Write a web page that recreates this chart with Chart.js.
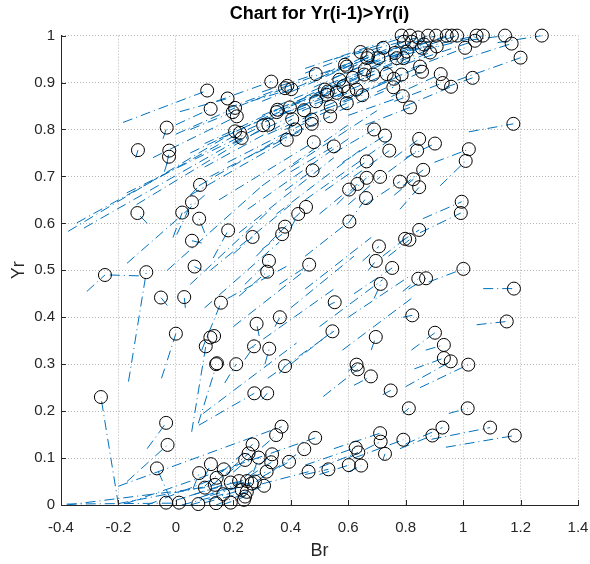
<!DOCTYPE html>
<html><head><meta charset="utf-8">
<script src="https://cdn.jsdelivr.net/npm/chart.js@4"></script>
<style>html,body{margin:0;padding:0;background:#fff}#wrap{width:590px;height:564px}</style>
</head><body><div id="wrap"><canvas id="c" width="590" height="564"></canvas></div>
<script>
const chartTitle = 'Chart for Yr(i-1)>Yr(i)';
const xLabel = 'Br';
const yLabel = 'Yr';

// circle markers (Br, Yr)
const circleBr = [0.786,0.815,0.843,0.878,0.906,0.943,0.961,0.979,1.047,1.069,1.146,1.274,0.794,0.821,0.864,0.908,0.885,1.007,1.041,1.169,1.200,0.804,0.722,0.643,0.670,0.666,0.705,0.763,0.769,0.792,0.856,0.850,0.857,0.786,
0.589,0.595,0.569,0.616,0.658,0.655,0.687,0.734,0.759,0.487,0.332,0.380,0.402,0.388,0.519,0.529,0.525,0.560,0.583,0.600,0.629,0.649,0.757,0.790,0.815,0.922,0.929,0.958,1.033,
0.109,0.180,0.121,0.198,0.206,0.212,0.206,0.223,0.229,0.304,0.322,0.354,0.351,0.397,0.405,0.416,0.386,0.446,0.473,0.473,0.480,0.550,0.476,0.488,0.539,0.537,0.595,
0.690,0.728,0.743,0.664,0.664,0.711,0.632,0.603,0.662,0.780,1.175,0.847,0.902,0.840,1.020,1.009,0.861,0.827,0.847,0.995,
-0.032,-0.132,-0.023,-0.024,0.084,0.056,-0.134,0.022,0.081,0.182,0.056,0.065,-0.247,-0.103,-0.052,0.029,0.157,0.000,0.120,0.133,0.104,0.140,0.143,0.210,
0.453,0.426,0.380,0.370,0.267,0.604,0.324,0.318,0.464,0.707,0.696,0.753,0.798,0.713,0.553,0.362,0.281,0.545,0.696,0.272,0.325,0.380,0.629,
0.992,0.847,0.813,1.001,0.871,0.844,1.177,0.823,1.152,0.902,0.933,0.933,0.957,1.018,
-0.261,0.273,0.318,-0.034,-0.029,-0.066,0.368,0.349,0.267,0.253,0.241,0.288,0.335,0.332,0.394,0.447,0.485,0.462,0.316,0.122,0.081,0.167,0.142,0.136,0.101,0.191,0.220,0.248,0.275,0.307,0.229,0.247,0.241,0.237,0.165,0.191,0.140,0.078,0.011,-0.034,0.264,
0.633,0.679,0.748,0.811,1.016,0.531,0.602,0.645,0.626,0.635,0.711,0.713,0.728,0.792,0.893,0.928,1.094,1.180];
const circleYr = [1.0,1.0,0.996,1.0,1.0,1.0,1.0,1.0,1.0,1.0,1.0,1.0,0.987,0.987,0.981,0.977,0.964,0.974,0.989,0.983,0.953,0.966,0.974,0.965,0.958,0.952,0.952,0.963,0.952,0.952,0.974,0.934,0.923,0.917,
0.938,0.934,0.906,0.910,0.928,0.917,0.917,0.918,0.908,0.918,0.902,0.888,0.886,0.893,0.885,0.881,0.874,0.878,0.892,0.881,0.885,0.873,0.890,0.871,0.847,0.918,0.899,0.891,0.910,
0.883,0.866,0.844,0.837,0.846,0.828,0.796,0.793,0.782,0.809,0.810,0.842,0.837,0.847,0.822,0.800,0.778,0.841,0.821,0.812,0.773,0.764,0.713,0.860,0.849,0.828,0.856,
0.800,0.787,0.755,0.732,0.697,0.699,0.684,0.672,0.654,0.689,0.812,0.780,0.770,0.755,0.758,0.733,0.714,0.694,0.677,0.646,
0.804,0.756,0.755,0.742,0.682,0.645,0.622,0.623,0.610,0.585,0.563,0.508,0.490,0.496,0.442,0.443,0.431,0.365,0.357,0.360,0.338,0.300,0.302,0.300,
0.635,0.620,0.593,0.577,0.571,0.604,0.520,0.497,0.512,0.551,0.520,0.505,0.567,0.471,0.432,0.400,0.386,0.370,0.358,0.338,0.333,0.296,0.299,
0.622,0.586,0.565,0.503,0.483,0.482,0.461,0.404,0.391,0.367,0.341,0.313,0.306,0.299,
0.230,0.238,0.238,0.175,0.128,0.078,0.167,0.149,0.129,0.110,0.096,0.101,0.108,0.091,0.092,0.119,0.143,0.071,0.071,0.087,0.068,0.076,0.058,0.043,0.037,0.048,0.051,0.051,0.050,0.041,0.032,0.028,0.018,0.011,0.023,0.005,0.004,0.002,0.005,0.005,0.046,
0.289,0.274,0.244,0.206,0.206,0.076,0.085,0.084,0.122,0.112,0.153,0.135,0.109,0.139,0.148,0.165,0.165,0.148];

// dash-dot connecting segments: start (from) and end (to)
const segFromBr = [0.45,0.55,0.62,0.60,0.70,0.66,0.78,0.75,0.86,0.80,1.02,1.12,0.58,0.62,0.68,0.72,0.66,0.82,0.80,1.00,0.98,0.56,0.50,0.45,0.52,0.40,0.48,0.55,0.50,0.60,0.70,0.62,0.70,0.52,
0.38,0.30,0.35,0.42,0.45,0.36,0.50,0.55,0.58,0.30,0.14,0.22,0.26,0.18,0.30,0.34,0.25,0.36,0.40,0.42,0.44,0.46,0.57,0.60,0.66,0.75,0.76,0.80,0.94,
-0.184,0.014,0.00,0.05,0.00,-0.08,-0.375,-0.345,-0.32,-0.171,-0.137,0.10,0.05,0.15,0.10,0.08,0.05,0.20,0.18,0.12,0.15,0.40,0.38,0.30,0.32,0.28,0.38,
0.55,0.58,0.62,0.52,0.60,0.60,0.56,0.50,0.60,0.66,1.02,0.76,0.80,0.74,0.90,0.92,0.79,0.76,0.78,0.86,
-0.045,-0.14,-0.032,-0.04,0.05,0.003,-0.10,-0.01,0.10,0.13,0.09,0.09,-0.31,-0.23,-0.165,-0.03,0.033,0.09,-0.05,0.055,0.078,0.17,
0.36,0.40,0.28,0.30,0.20,0.45,0.24,0.22,0.36,0.65,0.67,0.62,0.72,0.69,0.53,0.345,0.29,0.40,0.68,0.24,0.31,0.36,0.60,
0.85,0.78,0.74,0.88,0.81,0.79,1.07,0.79,1.047,0.82,0.87,0.83,0.80,0.85,
-0.20,0.08,0.30,-0.10,-0.17,-0.02,-0.20,0.20,0.16,0.14,0.12,0.27,0.24,0.20,0.30,0.28,-0.17,0.30,0.20,0.10,0.06,0.10,-0.10,-0.20,-0.38,0.00,0.05,0.08,0.10,0.14,0.05,0.10,0.16,0.02,0.12,
0.513,0.62,0.72,0.79,0.95,0.45,0.50,0.60,0.45,0.50,0.55,0.60,0.72,0.62,0.78,0.80,0.89,0.94,
-0.38,0.10,0.18,0.20,0.25,0.32,0.40,0.45,0.50,0.58,0.60,-0.03,0.05,0.12,0.22,0.25,0.30,0.35,0.40,0.45,0.095,-0.17];
const segFromYr = [0.93,0.95,0.96,0.93,0.96,0.94,0.97,0.955,0.975,0.96,0.99,0.985,0.93,0.94,0.94,0.93,0.91,0.93,0.94,0.95,0.905,0.90,0.91,0.92,0.92,0.88,0.89,0.91,0.88,0.90,0.94,0.87,0.88,0.85,
0.89,0.86,0.85,0.86,0.87,0.84,0.87,0.87,0.86,0.88,0.86,0.85,0.86,0.845,0.83,0.84,0.80,0.83,0.85,0.84,0.84,0.83,0.84,0.83,0.81,0.87,0.86,0.85,0.89,
0.815,0.838,0.81,0.80,0.79,0.74,0.583,0.601,0.59,0.665,0.64,0.77,0.75,0.78,0.72,0.68,0.66,0.77,0.73,0.70,0.65,0.71,0.67,0.82,0.79,0.75,0.80,
0.75,0.73,0.70,0.67,0.66,0.64,0.64,0.62,0.60,0.64,0.795,0.74,0.74,0.71,0.73,0.68,0.68,0.66,0.63,0.61,
0.78,0.74,0.725,0.71,0.66,0.576,0.60,0.57,0.58,0.526,0.558,0.50,0.455,0.49,0.263,0.425,0.42,0.33,0.27,0.156,0.174,0.26,
0.58,0.59,0.53,0.545,0.535,0.53,0.47,0.445,0.47,0.52,0.50,0.45,0.53,0.44,0.425,0.38,0.36,0.30,0.33,0.31,0.30,0.28,0.285,
0.58,0.56,0.53,0.475,0.46,0.455,0.461,0.40,0.384,0.33,0.33,0.29,0.252,0.25,
0.0,0.17,0.225,0.12,0.05,0.014,0.04,0.07,0.07,0.05,0.04,0.07,0.06,0.04,0.06,0.05,0.004,0.045,0.045,0.06,0.035,0.04,0.0,0.003,0.0,0.01,0.02,0.015,0.02,0.0,0.0,0.005,0.0,0.0,0.02,
0.231,0.255,0.235,0.195,0.195,0.065,0.065,0.07,0.085,0.08,0.12,0.10,0.095,0.10,0.12,0.13,0.14,0.123,
0.002,0.42,0.44,0.38,0.33,0.27,0.42,0.46,0.38,0.33,0.40,0.50,0.47,0.50,0.58,0.63,0.68,0.62,0.72,0.65,0.195,0.515];
const segToBr = [0.786,0.815,0.843,0.878,0.906,0.943,0.961,0.979,1.047,1.069,1.146,1.274,0.794,0.821,0.864,0.908,0.885,1.007,1.041,1.169,1.200,0.804,0.722,0.643,0.670,0.666,0.705,0.763,0.769,0.792,0.856,0.850,0.857,0.786,
0.589,0.595,0.569,0.616,0.658,0.655,0.687,0.734,0.759,0.487,0.332,0.380,0.402,0.388,0.519,0.529,0.525,0.560,0.583,0.600,0.629,0.649,0.757,0.790,0.815,0.922,0.929,0.958,1.033,
0.109,0.180,0.121,0.198,0.206,0.212,0.206,0.223,0.229,0.304,0.322,0.354,0.351,0.397,0.405,0.416,0.386,0.446,0.473,0.473,0.480,0.550,0.476,0.488,0.539,0.537,0.595,
0.690,0.728,0.743,0.664,0.664,0.711,0.632,0.603,0.662,0.780,1.175,0.847,0.902,0.840,1.020,1.009,0.861,0.827,0.847,0.995,
-0.032,-0.132,-0.023,-0.024,0.084,0.056,-0.134,0.022,0.081,0.182,0.056,0.065,-0.247,-0.12,-0.103,-0.052,0.029,0.157,0.000,0.104,0.136,0.210,
0.453,0.426,0.380,0.370,0.267,0.604,0.324,0.318,0.464,0.707,0.696,0.753,0.798,0.713,0.553,0.362,0.281,0.545,0.696,0.272,0.325,0.380,0.629,
0.992,0.847,0.813,1.001,0.871,0.844,1.177,0.823,1.152,0.902,0.933,0.933,0.957,1.018,
-0.261,0.273,0.318,-0.034,-0.029,-0.066,0.368,0.349,0.267,0.253,0.241,0.288,0.335,0.332,0.394,0.447,0.485,0.462,0.316,0.122,0.081,0.167,0.142,0.136,0.101,0.191,0.220,0.248,0.275,0.307,0.229,0.247,0.241,0.165,0.264,
0.633,0.679,0.748,0.811,1.016,0.531,0.602,0.645,0.626,0.635,0.711,0.713,0.728,0.792,0.893,0.928,1.094,1.180,
0.0,0.36,0.39,0.45,0.55,0.55,0.62,0.68,0.72,0.82,0.82,0.30,0.33,0.40,0.55,0.60,0.60,0.65,0.70,0.75,0.42,0.10];
const segToYr = [1.0,1.0,0.996,1.0,1.0,1.0,1.0,1.0,1.0,1.0,1.0,1.0,0.987,0.987,0.981,0.977,0.964,0.974,0.989,0.983,0.953,0.966,0.974,0.965,0.958,0.952,0.952,0.963,0.952,0.952,0.974,0.934,0.923,0.917,
0.938,0.934,0.906,0.910,0.928,0.917,0.917,0.918,0.908,0.918,0.902,0.888,0.886,0.893,0.885,0.881,0.874,0.878,0.892,0.881,0.885,0.873,0.890,0.871,0.847,0.918,0.899,0.891,0.910,
0.883,0.866,0.844,0.837,0.846,0.828,0.796,0.793,0.782,0.809,0.810,0.842,0.837,0.847,0.822,0.800,0.778,0.841,0.821,0.812,0.773,0.764,0.713,0.860,0.849,0.828,0.856,
0.800,0.787,0.755,0.732,0.697,0.699,0.684,0.672,0.654,0.689,0.812,0.780,0.770,0.755,0.758,0.733,0.714,0.694,0.677,0.646,
0.804,0.756,0.755,0.742,0.682,0.645,0.622,0.623,0.610,0.585,0.563,0.508,0.490,0.488,0.496,0.442,0.443,0.431,0.365,0.338,0.288,0.300,
0.635,0.620,0.593,0.577,0.571,0.604,0.520,0.497,0.512,0.551,0.520,0.505,0.567,0.471,0.432,0.400,0.386,0.370,0.358,0.338,0.333,0.296,0.299,
0.622,0.586,0.565,0.503,0.483,0.482,0.461,0.404,0.391,0.367,0.341,0.313,0.306,0.299,
0.230,0.238,0.238,0.175,0.128,0.078,0.167,0.149,0.129,0.110,0.096,0.101,0.108,0.091,0.092,0.119,0.143,0.071,0.071,0.087,0.068,0.076,0.058,0.043,0.037,0.048,0.051,0.051,0.050,0.041,0.032,0.028,0.018,0.023,0.046,
0.289,0.274,0.244,0.206,0.206,0.076,0.085,0.084,0.122,0.112,0.153,0.135,0.109,0.139,0.148,0.165,0.165,0.148,
0.004,0.56,0.51,0.50,0.46,0.37,0.53,0.57,0.48,0.44,0.49,0.68,0.63,0.64,0.74,0.78,0.81,0.76,0.84,0.78,0.345,0.66];

const xTicksStep = 0.2, yTicksStep = 0.1;
const FONT = '"Liberation Sans", Arial, Helvetica, sans-serif';
const INK = '#262626';

const circlePoints = circleBr.map((b, i) => ({x: b, y: circleYr[i]}));
const segPoints = [];
const nSeg = Math.min(segFromBr.length, segFromYr.length, segToBr.length, segToYr.length);
for (let i = 0; i < nSeg; i++) {
  segPoints.push({x: segFromBr[i], y: segFromYr[i]});
  segPoints.push({x: segToBr[i], y: segToYr[i]});
  segPoints.push({x: segToBr[i], y: null});
}

const innerTicks = {
  id: 'innerTicks',
  afterDraw(chart) {
    const {ctx, chartArea: a, scales: {x, y}} = chart;
    ctx.save();
    ctx.strokeStyle = INK; ctx.lineWidth = 1;
    ctx.beginPath();
    x.ticks.forEach(t => { const p = Math.round(x.getPixelForValue(t.value)) + 0.5; ctx.moveTo(p, a.bottom); ctx.lineTo(p, a.bottom - 5); });
    y.ticks.forEach(t => { const p = Math.round(y.getPixelForValue(t.value)) + 0.5; ctx.moveTo(a.left, p); ctx.lineTo(a.left + 5, p); });
    ctx.stroke();
    ctx.restore();
  }
};

const fmt = v => String(Number(Number(v).toFixed(1)));

new Chart(document.getElementById('c'), {
  type: 'scatter',
  data: {
    datasets: [
      {
        label: 'points', data: circlePoints, order: 0, clip: false,
        pointStyle: 'circle', pointRadius: 6.5, pointHoverRadius: 6.5,
        borderColor: '#000000', backgroundColor: 'rgba(0,0,0,0)', borderWidth: 1, showLine: false
      },
      {
        label: 'lines', data: segPoints, order: 1, showLine: true, spanGaps: false,
        borderColor: '#0072BD', borderWidth: 1, borderDash: [10, 4, 1, 4],
        pointRadius: 0, pointHoverRadius: 0, fill: false, tension: 0
      }
    ]
  },
  options: {
    responsive: false, animation: false, devicePixelRatio: 1,
    events: [],
    layout: {padding: {top: 3, right: 12, left: 0, bottom: 0}},
    plugins: {
      legend: {display: false}, tooltip: {enabled: false},
      title: {display: true, text: chartTitle, fullSize: false, color: '#000',
        font: {family: FONT, size: 18, weight: 'bold', lineHeight: 1.2}, padding: {top: 0, bottom: 11}}
    },
    scales: {
      x: {
        type: 'linear', min: -0.4, max: 1.4,
        ticks: {stepSize: xTicksStep, callback: fmt, color: INK, font: {family: FONT, size: 15}, padding: 14, maxRotation: 0, autoSkip: false},
        grid: {color: '#b4b4b4', drawTicks: false, lineWidth: 1},
        border: {display: true, color: INK, width: 1, dash: [1, 2]},
        title: {display: true, text: xLabel, color: INK, font: {family: FONT, size: 18}, padding: {top: 0, bottom: 2}},
        afterFit(s) { s.height = 59; s.paddingLeft = 0; s.paddingRight = 0; }
      },
      y: {
        type: 'linear', min: 0, max: 1,
        ticks: {stepSize: yTicksStep, callback: fmt, color: INK, font: {family: FONT, size: 15}, padding: 6, autoSkip: false},
        grid: {color: '#b4b4b4', drawTicks: false, lineWidth: 1},
        border: {display: true, color: INK, width: 1, dash: [1, 2]},
        title: {display: true, text: yLabel, color: INK, font: {family: FONT, size: 18}, padding: {top: 8, bottom: 0}},
        afterFit(s) { s.width = 61; s.paddingTop = 0; s.paddingBottom = 0; }
      }
    }
  },
  plugins: [innerTicks]
});
</script></body></html>
